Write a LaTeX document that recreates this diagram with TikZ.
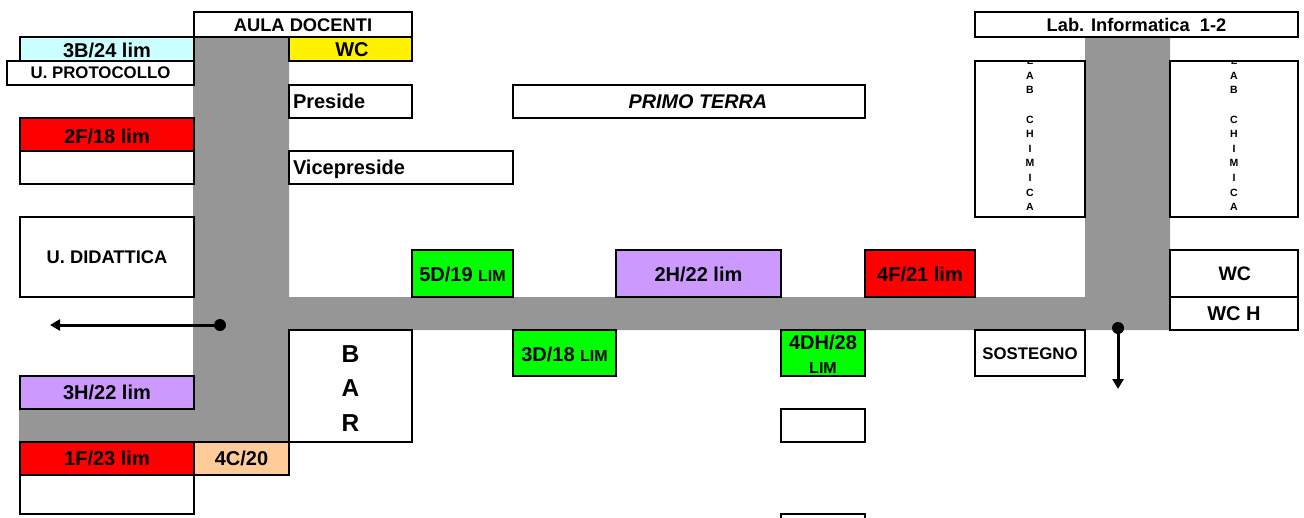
\documentclass[tikz,border=0pt]{standalone}
\usepackage{fontspec}
\setmainfont{Liberation Sans}
\usetikzlibrary{arrows.meta}
\definecolor{corr}{HTML}{969696}
\definecolor{lcyan}{HTML}{CCFFFF}
\definecolor{lilac}{HTML}{CC99FF}
\definecolor{peach}{HTML}{FFCC99}
\newcommand{\fs}[1]{\fontsize{#1}{#1}\selectfont\bfseries}
\newcommand{\room}[7][]{%
  \node[roombox,#1,minimum width={#4-#2},minimum height={#5-#3}] (#6) at ({(#2+#4)/2},{(#3+#5)/2}) {#7};}
\newcommand{\labletters}{\rule{0pt}{9.5pt}L\\A\\B\\~\\C\\H\\I\\M\\I\\C\\A}
\newcommand{\smlim}{{\fontsize{16}{16}\selectfont LIM}}
\tikzset{
  roombox/.style={draw=black,line width=1.8pt,inner sep=0pt,outer sep=0pt,align=center,text=black,fill=white},
  leftbox/.style={draw=black,line width=1.8pt,inner ysep=0pt,inner xsep=4pt,outer sep=0pt,align=left,text=black,fill=white,anchor=north west},
  sz/.style={font=\fs{#1},text height={#1*0.85},text depth=0pt},
  szmid/.style={font=\fs{#1},text height={#1*0.78},text depth=0pt},
  szflat/.style={font=\fs{#1},text height={#1*0.72},text depth=0pt},
  sztight/.style={font=\fs{#1},text height={#1*0.64},text depth=0pt},
  corridor/.style={fill=corr,draw=none},
  dotnode/.style={circle,fill=black,inner sep=0pt,minimum size=12pt,outer sep=0pt},
  routeline/.style={draw=black,line width=3pt,-{Triangle[length=10pt,width=11pt]},shorten <=-3pt},
  labtext/.style={inner sep=0pt,align=center,text=black,font=\fontsize{10.5}{14.6}\selectfont\bfseries}
}
\begin{document}
\begin{tikzpicture}[x=1pt,y=-1pt]
\useasboundingbox (0,0) rectangle (1304,517);
\clip (0,0) rectangle (1304,517);
\fill[corridor] (193,37) -- (289,37) -- (289,297) -- (1085,297) -- (1085,37) -- (1170,37)
  -- (1170,330) -- (289,330) -- (289,441) -- (19,441) -- (19,409) -- (193,409) -- cycle;
% left column
\room[szflat=18.3]{194}{12}{412}{37}{aula}{AULA DOCENTI}
\room[fill=lcyan,sz=20]{20}{37}{194}{61}{tb}{3B/24 lim}
\room[sztight=16.8]{7}{61}{194}{85}{prot}{U. PROTOCOLLO}
\room[fill=red,sz=20]{20}{118}{194}{151}{fF}{2F/18 lim}
\room{20}{151}{194}{184}{emptya}{}
\room[szflat=18.3]{20}{217}{194}{297}{did}{U. DIDATTICA}
\room[fill=lilac,szflat=20]{20}{376}{194}{409}{tH}{3H/22 lim}
\room[fill=red,szflat=20]{20}{442}{194}{475}{oF}{1F/23 lim}
\room[fill=peach,szflat=20]{194}{442}{289}{475}{qC}{4C/20}
\room{20}{475}{194}{514}{emptyb}{}
% centre-left
\room[fill=yellow,szflat=20]{289}{37}{412}{61}{wca}{\hspace{3pt}WC}
\node[leftbox,szflat=20,minimum height=33pt,text width=115pt] (pres) at (289,85) {Preside};
\node[leftbox,szflat=20,minimum height=33pt,text width=216pt] (vice) at (289,151) {Vicepreside};
\room[szflat=19.8]{513}{85}{865}{118}{primo}{\hspace{18pt}\itshape PRIMO TERRA}
\room[font=\fontsize{24.5}{34.5}\selectfont\bfseries]{289}{330}{412}{442}{bar}{\rule{0pt}{21.5pt}B\\A\\R}
% rooms on the corridor
\room[fill=green,szmid=20]{412}{250}{513}{297}{fD}{5D/19 \smlim}
\room[fill=lilac,szmid=20]{616}{250}{781}{297}{dH}{2H/22 lim}
\room[fill=red,szmid=20]{865}{250}{975}{297}{qF}{4F/21 lim}
\room[fill=green,sz=20]{513}{330}{616}{376}{tD}{3D/18 \smlim}
\room[fill=green,font=\fontsize{20}{24}\selectfont\bfseries]{781}{330}{865}{376}{qDH}{\rule{0pt}{16.5pt}4DH/28\\\smlim}
\room{781}{409}{865}{442}{emptyc}{}
\room{781}{514}{865}{540}{emptyd}{}
\room[szflat=16.8]{975}{330}{1085}{376}{sost}{SOSTEGNO}
% right
\room[szflat=18.3]{975}{12}{1298}{37}{info}{Lab. Informatica\ \ 1-2}
\room{975}{61}{1085}{217}{chima}{}
\room{1170}{61}{1298}{217}{chimb}{}
\room[szflat=19.5]{1170}{250}{1298}{297}{wcb}{\hspace{1.5pt}WC}
\room[szflat=20]{1170}{297}{1298}{330}{wch}{WC H}
\begin{scope}
  \clip (975,62) rectangle (1298,216);
  \node[labtext] (chimta) at (1030,133) {\labletters};
  \node[labtext] (chimtb) at (1234,133) {\labletters};
\end{scope}
% routes
\node[dotnode] (dl) at (220,325) {};
\coordinate (el) at (50,325);
\draw[routeline] (dl) -- (el);
\node[dotnode] (dr) at (1118,328) {};
\coordinate (er) at (1118,389);
\draw[routeline] (dr) -- (er);
\end{tikzpicture}
\end{document}
